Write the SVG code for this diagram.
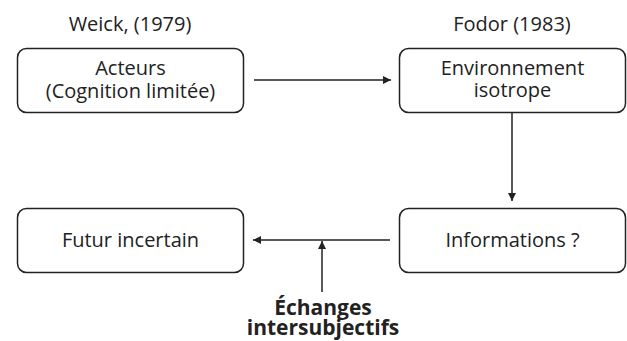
<svg xmlns="http://www.w3.org/2000/svg" width="627" height="341" viewBox="0 0 627 341">
<style>
.box{fill:#fff;stroke:#222;stroke-width:1.5}
.t{font-family:"Open Sans","Liberation Sans",sans-serif;font-size:20px;fill:#222;text-anchor:middle}
.b{font-weight:bold;font-size:21px}
.c{stroke:#222;stroke-width:1.5;fill:none}
</style>
<defs>
<marker id="ah" viewBox="0 0 10 10" refX="10" refY="5" markerWidth="9" markerHeight="8" markerUnits="userSpaceOnUse" orient="auto">
<path d="M0,0 L10,5 L0,10 z" fill="#222"/>
</marker>
</defs>
<rect width="627" height="341" fill="#fff"/>
<text class="t" x="130" y="31">Weick, (1979)</text>
<text class="t" x="512" y="31">Fodor (1983)</text>
<g id="acteurs">
<rect class="box" x="17.5" y="48.5" width="226" height="64" rx="9"/>
<text class="t"><tspan x="130.5" y="75">Acteurs</tspan><tspan x="130.5" y="98">(Cognition limitée)</tspan></text>
</g>
<g id="environnement">
<rect class="box" x="399.5" y="48.5" width="226" height="64" rx="9"/>
<text class="t"><tspan x="512.5" y="75">Environnement</tspan><tspan x="512.5" y="97">isotrope</tspan></text>
</g>
<g id="futur">
<rect class="box" x="17.5" y="208.5" width="226" height="64" rx="9"/>
<text class="t" x="130.5" y="247">Futur incertain</text>
</g>
<g id="informations">
<rect class="box" x="399.5" y="208.5" width="226" height="64" rx="9"/>
<text class="t" x="512.5" y="247">Informations ?</text>
</g>
<g id="echanges">
<text class="t b"><tspan x="323" y="315">Échanges</tspan><tspan x="323" y="335">intersubjectifs</tspan></text>
</g>
<g id="connectors">
<line class="c" x1="254" y1="80" x2="391" y2="80" marker-end="url(#ah)"/>
<line class="c" x1="512" y1="113" x2="512" y2="201" marker-end="url(#ah)"/>
<line class="c" x1="390" y1="240" x2="253" y2="240" marker-end="url(#ah)"/>
<line class="c" x1="322" y1="292" x2="322" y2="241" marker-end="url(#ah)"/>
</g>
</svg>
